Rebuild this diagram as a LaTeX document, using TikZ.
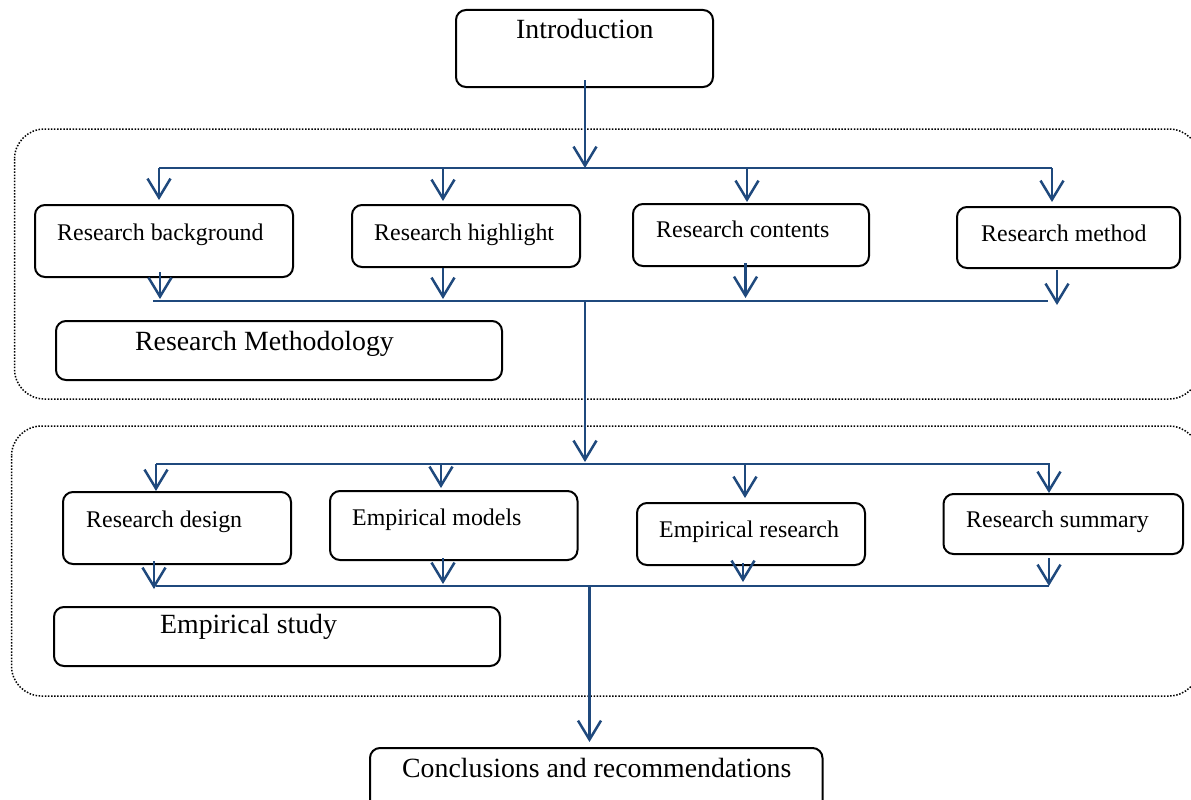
\documentclass[tikz,border=0pt]{standalone}
\usepackage{fontspec}
\setmainfont{Liberation Serif}
\usetikzlibrary{arrows.meta}
\definecolor{flowblue}{RGB}{31,73,125}
\tikzset{
  boxstyle/.style={draw=black, line width=2pt, rounded corners=10pt, inner sep=0pt, fill=none},
  smalltext/.style={anchor=base west, inner sep=0pt, font=\fontsize{23.9}{28}\selectfont},
  bigtext/.style={anchor=base west, inner sep=0pt, font=\fontsize{27.8}{32}\selectfont},
  flowline/.style={draw=flowblue, line width=2.5pt},
  flowarrow/.style={draw=flowblue, line width=2.5pt, -{Straight Barb[length=19pt,width=23pt]}},
  groupbox/.style={draw=black, line width=1.5pt, dash pattern=on 1.5pt off 1.6pt, rounded corners=30pt}
}
\begin{document}
\begin{tikzpicture}[x=1pt,y=-1pt]
\path[use as bounding box, clip] (0,0) rectangle (1191,800);

% group boxes
\draw[groupbox] (14.5,129) rectangle (1199,399);
\draw[groupbox] (11.5,426) rectangle (1199,696);

% introduction
\node[boxstyle, minimum width=257pt, minimum height=77pt] (intro) at (584.5,48.5) {};
\node[bigtext] (introt) at (516,39) {Introduction};

% row 1 boxes
\node[boxstyle, minimum width=258pt, minimum height=72pt] (bg) at (164,241) {};
\node[smalltext] (bgt) at (57,240) {Research background};
\node[boxstyle, minimum width=228pt, minimum height=62pt] (hl) at (466,236) {};
\node[smalltext] (hlt) at (374,240) {Research highlight};
\node[boxstyle, minimum width=236pt, minimum height=62pt] (ct) at (751,235) {};
\node[smalltext] (ctt) at (656,237) {Research contents};
\node[boxstyle, minimum width=223pt, minimum height=61pt] (mt) at (1068.5,237.5) {};
\node[smalltext] (mtt) at (981,241) {Research method};
\node[boxstyle, minimum width=446pt, minimum height=59pt] (rm) at (279,350.5) {};
\node[bigtext] (rmt) at (135,350) {Research Methodology};

% row 2 boxes
\node[boxstyle, minimum width=228pt, minimum height=72pt] (rd) at (177,528) {};
\node[smalltext] (rdt) at (86,527) {Research design};
\node[boxstyle, minimum width=247.5pt, minimum height=69pt] (em) at (453.75,525.5) {};
\node[smalltext] (emt) at (352,525) {Empirical models};
\node[boxstyle, minimum width=228pt, minimum height=62pt] (er) at (751,534) {};
\node[smalltext] (ert) at (659,537) {Empirical research};
\node[boxstyle, minimum width=239.5pt, minimum height=60pt] (rs) at (1063.25,524) {};
\node[smalltext] (rst) at (966,527) {Research summary};
\node[boxstyle, minimum width=446pt, minimum height=59pt] (es) at (277,636.5) {};
\node[bigtext] (est) at (160,633) {Empirical study};

% conclusions
\node[boxstyle, minimum width=452.5pt, minimum height=82pt] (cc) at (596.25,789) {};
\node[bigtext] (cct) at (402,777) {Conclusions and recommendations};

% junction coordinates
\coordinate (j1) at (585,168);
\coordinate (t1L) at (159,168);
\coordinate (t1R) at (1052,168);
\coordinate (b1L) at (153,301);
\coordinate (b1R) at (1048,301);
\coordinate (j2) at (585,301);
\coordinate (t2L) at (156,464);
\coordinate (t2R) at (1050,464);
\coordinate (b2L) at (156,586);
\coordinate (b2R) at (1049,586);
\coordinate (j4) at (589.5,586);

% intro -> row 1
\draw[flowarrow] ([yshift=8pt]intro.south -| j1) -- (j1);
\draw[flowline] (t1L) -- (t1R);
\draw[flowarrow] (t1L) -- (159,200);
\draw[flowarrow] (443,168) -- (443,201);
\draw[flowarrow] (747,168) -- (747,202);
\draw[flowarrow] (t1R) -- (1052,202);

% row 1 -> collector
\draw[flowarrow] (160,272) -- (160,299);
\draw[flowarrow] (hl.south -| 443,0) -- (443,299);
\draw[flowarrow] (745.5,263) -- (745.5,298);
\draw[flowarrow] (1057,270) -- (1057,305);
\draw[flowline] (b1L) -- (b1R);

% collector -> row 2
\draw[flowarrow] (j2) -- (585,462);
\draw[flowline] (t2L) -- (t2R);
\draw[flowarrow] (t2L) -- (156,491);
\draw[flowarrow] (441,464) -- (441,488);
\draw[flowarrow] (745,464) -- (745,498);
\draw[flowarrow] (1049,464) -- (1049,493);

% row 2 -> collector
\draw[flowarrow] (154,561) -- (154,589);
\draw[flowarrow] (443,558) -- (443,584);
\draw[flowarrow] (743,563) -- (743,582);
\draw[flowarrow] (1049,558) -- (1049,586);
\draw[flowline] (b2L) -- (b2R);

% collector -> conclusions
\draw[flowarrow] (j4) -- (589.5,742);
\end{tikzpicture}
\end{document}
